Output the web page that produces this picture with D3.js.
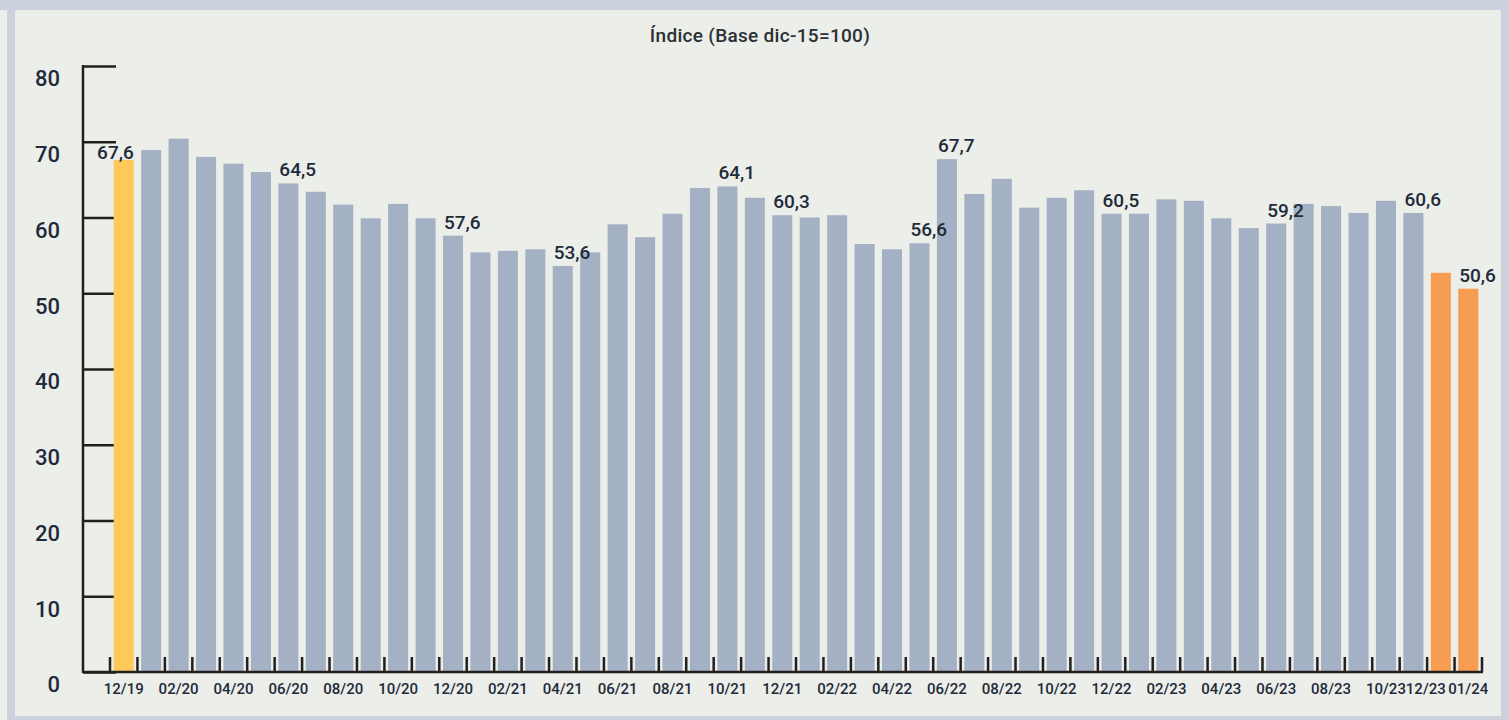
<!DOCTYPE html>
<html>
<head>
<meta charset="utf-8">
<script src="https://cdn.jsdelivr.net/npm/d3@7/dist/d3.min.js"></script>
<style>
  html, body { margin: 0; padding: 0; background: #eceee9; }
  svg { display: block; font-family: Roboto, "Open Sans", sans-serif; }
</style>
</head>
<body>
<div id="chart"></div>
<script>
// data (índice, base dic-15 = 100)
const categories = [
  '12/19',
  '01/20','02/20','03/20','04/20','05/20','06/20','07/20','08/20','09/20','10/20','11/20','12/20',
  '01/21','02/21','03/21','04/21','05/21','06/21','07/21','08/21','09/21','10/21','11/21','12/21',
  '01/22','02/22','03/22','04/22','05/22','06/22','07/22','08/22','09/22','10/22','11/22','12/22',
  '01/23','02/23','03/23','04/23','05/23','06/23','07/23','08/23','09/23','10/23','11/23','12/23',
  '01/24'
];
const values = [
  67.6,
  68.9, 70.4, 68.0, 67.1, 66.0, 64.5, 63.4, 61.7, 59.9, 61.8, 59.9, 57.6,
  55.4, 55.6, 55.8, 53.6, 55.4, 59.1, 57.4, 60.5, 63.9, 64.1, 62.6, 60.3,
  60.0, 60.3, 56.5, 55.8, 56.6, 67.7, 63.1, 65.1, 61.3, 62.6, 63.6, 60.5,
  60.5, 62.4, 62.2, 59.9, 58.6, 59.2, 61.8, 61.5, 60.6, 62.2, 60.6, 52.7,
  50.6
];
const labelled = ['12/19','06/20','12/20','04/21','10/21','12/21','05/22','06/22','12/22','06/23','11/23','01/24'];
const tickLabels = [
  '12/19','02/20','04/20','06/20','08/20','10/20','12/20','02/21','04/21','06/21','08/21','10/21','12/21',
  '02/22','04/22','06/22','08/22','10/22','12/22','02/23','04/23','06/23','08/23','10/23','12/23','01/24'
];
const yTicks = [0, 10, 20, 30, 40, 50, 60, 70, 80];
const title = 'Índice (Base dic-15=100)';

const baseColour = '#a4b0c4';
const highlight = {'12/19': '#fec95a', '12/23': '#f79d51', '01/24': '#f79d51'};
const inkColour = '#1f2a3a';

const width = 1509, height = 720;
const data = categories.map((c, i) => ({cat: c, value: values[i]}));

const svg = d3.select('#chart').append('svg')
  .attr('width', width)
  .attr('height', height);

// frame
svg.append('rect').attr('x', 0).attr('y', 0).attr('width', width).attr('height', height).attr('fill', '#eceee9');
const frame = '#cbd2de';
svg.append('rect').attr('x', 0).attr('y', 0).attr('width', width).attr('height', 10).attr('fill', frame);
svg.append('rect').attr('x', 7).attr('y', 0).attr('width', 8).attr('height', height).attr('fill', frame);
svg.append('rect').attr('x', 1501).attr('y', 0).attr('width', 8).attr('height', height).attr('fill', frame);
svg.append('rect').attr('x', 7).attr('y', 716).attr('width', width - 7).attr('height', 4).attr('fill', frame);

// scales
const x = d3.scaleBand()
  .domain(categories)
  .range([110, 1482])
  .paddingInner(0.27)
  .paddingOuter(0.135);
const y = d3.scaleLinear()
  .domain([0, 80])
  .range([672, 66]);

const axisX = 83;

// title
svg.append('text')
  .attr('x', 760)
  .attr('y', 42)
  .attr('text-anchor', 'middle')
  .attr('font-size', 19)
  .attr('font-weight', 500)
  .attr('letter-spacing', 0.3)
  .attr('fill', '#2b2f36')
  .text(title);

// y axis: ticks point right, labels sit a bit below each tick
const yAxis = svg.append('g')
  .attr('transform', `translate(${axisX},0)`)
  .call(d3.axisLeft(y).tickValues(yTicks).tickSize(-33).tickPadding(23).tickFormat(d3.format('d')));
yAxis.select('.domain').remove();
yAxis.selectAll('.tick line').attr('stroke', '#231f20').attr('stroke-width', 2.5);
yAxis.selectAll('.tick text')
  .attr('dy', '0.9em')
  .attr('font-size', 22)
  .attr('font-weight', 500)
  .attr('fill', inkColour)
  .attr('font-family', 'Roboto, sans-serif');

// bars
svg.append('g')
  .selectAll('rect')
  .data(data)
  .enter().append('rect')
    .attr('x', d => x(d.cat))
    .attr('y', d => y(d.value))
    .attr('width', x.bandwidth())
    .attr('height', d => y(0) - y(d.value))
    .attr('fill', d => highlight[d.cat] || baseColour);

// vertical axis line and baseline
svg.append('line')
  .attr('x1', axisX).attr('x2', axisX)
  .attr('y1', y(80) - 1).attr('y2', y(0) + 1)
  .attr('stroke', '#231f20').attr('stroke-width', 2.5);
svg.append('line')
  .attr('x1', axisX).attr('x2', x.range()[1] + 1)
  .attr('y1', y(0)).attr('y2', y(0))
  .attr('stroke', '#231f20').attr('stroke-width', 2.5);

// category boundary ticks (pointing up)
const gap = x.step() * x.paddingInner();
const boundaries = categories.map(c => x(c) - gap / 2).concat([x(categories[categories.length - 1]) + x.bandwidth() + gap / 2]);
svg.append('g')
  .selectAll('line')
  .data(boundaries)
  .enter().append('line')
    .attr('x1', d => d).attr('x2', d => d)
    .attr('y1', y(0)).attr('y2', y(0) - 15)
    .attr('stroke', '#231f20').attr('stroke-width', 2.5);

// category labels
svg.append('g')
  .selectAll('text')
  .data(tickLabels)
  .enter().append('text')
    .attr('x', d => x(d) + x.bandwidth() / 2 + (d === '12/23' ? -15 : 0))
    .attr('y', 694)
    .attr('text-anchor', 'middle')
    .attr('font-size', 15)
    .attr('font-weight', 500)
    .attr('fill', inkColour)
    .text(d => d);

// value labels: start at the bar's left edge, the first one ends at its right edge
const fmt = v => d3.format('.1f')(v).replace('.', ',');
svg.append('g')
  .selectAll('text')
  .data(data.filter(d => labelled.includes(d.cat)))
  .enter().append('text')
    .attr('x', d => d.cat === '12/19' ? x(d.cat) + x.bandwidth() : x(d.cat) + 1)
    .attr('y', d => y(d.value) - (d.cat === '12/19' ? 1 : 7))
    .attr('text-anchor', d => d.cat === '12/19' ? 'end' : 'start')
    .attr('font-size', 19)
    .attr('font-weight', 500)
    .attr('fill', inkColour)
    .text(d => fmt(d.value));
</script>
</body>
</html>
